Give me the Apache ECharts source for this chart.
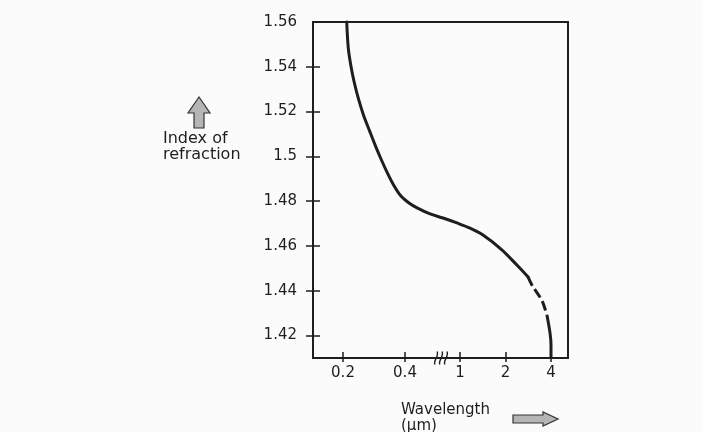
<!DOCTYPE html>
<html>
<head>
<meta charset="utf-8">
<script src="https://cdn.jsdelivr.net/npm/echarts@6/dist/echarts.min.js"></script>
<style>html,body{margin:0;padding:0;background:#fbfbfb;}#c{width:703px;height:432px;}</style>
</head>
<body>
<div id="c"></div>
<script>
// Wavelength (µm) and refractive index
const solidWl = [0.212, 0.217, 0.225, 0.236, 0.249, 0.266, 0.286, 0.305, 0.324, 0.345, 0.365, 0.387, 0.413, 0.439, 0.481, 0.725, 0.955, 1.165, 1.42, 1.90, 2.38, 2.82];
const solidN  = [1.5600, 1.5484, 1.5408, 1.5332, 1.5261, 1.5185, 1.5113, 1.5046, 1.4984, 1.4921, 1.4868, 1.4823, 1.4792, 1.4770, 1.4743, 1.4725, 1.4703, 1.4680, 1.4649, 1.4582, 1.4515, 1.4462];
const dashWl  = [2.82, 2.99, 3.38, 3.54, 3.76];
const dashN   = [1.4462, 1.4426, 1.4372, 1.4346, 1.4292];
const tailWl  = [3.76, 3.94, 4.0, 4.0];
const tailN   = [1.4292, 1.4212, 1.4158, 1.4100];
const xTickWl = [0.2, 0.4, 1, 2, 4];
const xTickLabels = ['0.2', '0.4', '1', '2', '4'];
const yTicks = [1.42, 1.44, 1.46, 1.48, 1.50, 1.52, 1.54, 1.56];
const yTickLabels = ['1.42', '1.44', '1.46', '1.48', '1.5', '1.52', '1.54', '1.56'];
const breakWl = 0.66;

// Broken wavelength axis: linear below 0.5 µm, compressed break 0.5–0.8, log above 0.8 µm
function pos(l) {
  if (l <= 0.5) return 30 + (l - 0.2) * 310;
  if (l < 0.8) {
    const a = 30 + 0.3 * 310, b = 147 + 45.5 * Math.log2(0.8);
    return a + (l - 0.5) / 0.3 * (b - a);
  }
  return 147 + 45.5 * Math.log2(l);
}
const pts = (w, n) => w.map((l, i) => [pos(l), n[i]]);
const xTickPos = xTickWl.map(pos);

const FONT = 'DejaVu Sans';
const INK = '#1e1e1e';
const xMin = 0, xMax = 255, yMin = 1.41, yMax = 1.56;

function nearestLabel(vals, labels, v) {
  let k = 0, d = 1e9;
  vals.forEach((p, i) => { if (Math.abs(p - v) < d) { d = Math.abs(p - v); k = i; } });
  return labels[k];
}
function xAxisCfg(inside, show) {
  return {
    type: 'value', min: xMin, max: xMax, position: 'bottom', offset: 0,
    axisLine: { show: true, onZero: false, lineStyle: { color: INK, width: 2 } },
    axisTick: { show: true, inside: inside, length: inside ? 6 : 4, customValues: xTickPos, lineStyle: { color: INK, width: 1.5 } },
    axisLabel: show ? {
      customValues: xTickPos, margin: 8, color: INK, fontFamily: FONT, fontSize: 15,
      formatter: v => nearestLabel(xTickPos, xTickLabels, v)
    } : { show: false },
    splitLine: { show: false }
  };
}
function yAxisCfg(inside, show) {
  return {
    type: 'value', min: yMin, max: yMax, position: 'left', offset: 0,
    axisLine: { show: true, onZero: false, lineStyle: { color: INK, width: 2 } },
    axisTick: { show: true, inside: inside, length: 7, customValues: yTicks.slice(0, 7), lineStyle: { color: INK, width: 1.5 } },
    axisLabel: show ? {
      customValues: yTicks, margin: 16, color: INK, fontFamily: FONT, fontSize: 15,
      formatter: v => nearestLabel(yTicks, yTickLabels, v)
    } : { show: false },
    splitLine: { show: false }
  };
}

const chart = echarts.init(document.getElementById('c'), null, { renderer: 'canvas' });
const lineBase = { type: 'line', smooth: 0.3, symbol: 'none', silent: true, clip: false, xAxisIndex: 0, yAxisIndex: 0 };
chart.setOption({
  backgroundColor: '#fbfbfb',
  animation: false,
  grid: { left: 313, top: 22, right: 135, bottom: 74, show: true, borderColor: INK, borderWidth: 2, backgroundColor: 'transparent' },
  xAxis: [xAxisCfg(false, true), xAxisCfg(true, false)],
  yAxis: [yAxisCfg(false, true), yAxisCfg(true, false)],
  series: [
    Object.assign({}, lineBase, { data: pts(solidWl, solidN), lineStyle: { color: INK, width: 3, cap: 'round', join: 'round' },
      markPoint: {
        symbol: 'path://M1,13 C-1,9 5,5 3,0 M5.5,13 C3.5,9 9.5,5 7.5,0 M10,13 C8,9 14,5 12,0',
        symbolSize: [13, 13], silent: true,
        itemStyle: { color: 'none', borderColor: INK, borderWidth: 1.4 },
        label: { show: false },
        data: [{ coord: [pos(breakWl), yMin] }]
      } }),
    Object.assign({}, lineBase, { data: pts(dashWl, dashN), lineStyle: { color: INK, width: 3, type: [10, 4] } }),
    Object.assign({}, lineBase, { data: pts(tailWl, tailN), lineStyle: { color: INK, width: 3 } })
  ],
  graphic: [
    { type: 'polygon', shape: { points: [[194,128],[194,113],[188,113],[199,97],[210,113],[204,113],[204,128]] },
      style: { fill: '#b5b5b5', stroke: '#333', lineWidth: 1.2 } },
    { type: 'text', left: 163, top: 131, style: { text: 'Index of', font: '16px "DejaVu Sans"', fill: INK } },
    { type: 'text', left: 163, top: 147, style: { text: 'refraction', font: '16px "DejaVu Sans"', fill: INK } },
    { type: 'text', left: 401, top: 403, style: { text: 'Wavelength', font: '15px "DejaVu Sans"', fill: INK } },
    { type: 'text', left: 401, top: 419, style: { text: '(µm)', font: '15px "DejaVu Sans"', fill: INK } },
    { type: 'polygon', shape: { points: [[513,415],[543,415],[543,412],[558,419],[543,426],[543,423],[513,423]] },
      style: { fill: '#b5b5b5', stroke: '#333', lineWidth: 1.2 } }
  ]
});
</script>
</body>
</html>
